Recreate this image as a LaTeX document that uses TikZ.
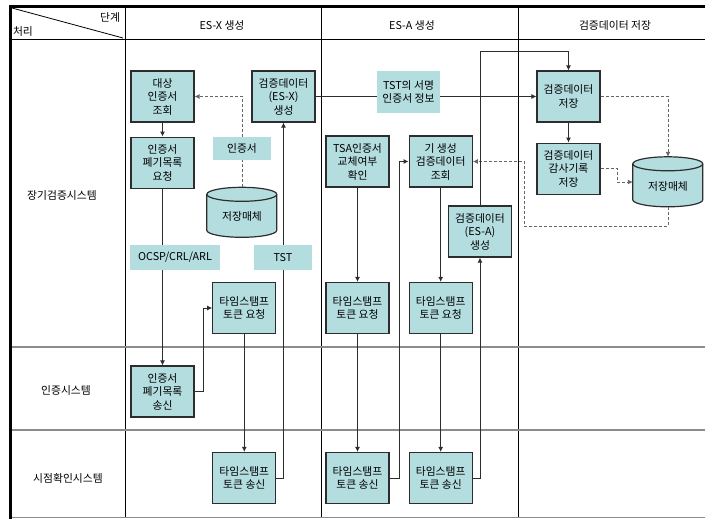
\documentclass[tikz,border=0pt]{standalone}
\usepackage{fontspec}
\setmainfont{Noto Sans CJK KR}
\usepackage{xcolor}
\usepackage{tikz}
\usetikzlibrary{positioning,arrows.meta}
\definecolor{boxfill}{RGB}{180,221,224}
\definecolor{lineclr}{RGB}{45,45,45}
\definecolor{gridgray}{RGB}{140,140,140}

\begin{document}
\begin{tikzpicture}[x=1pt, y=-1pt, font=\fontsize{10.8}{13.5}\selectfont,
    >={Latex[length=5pt,width=5pt]},
    box/.style={draw=lineclr, line width=1.2pt, fill=boxfill, rectangle, align=center,
      inner sep=0pt, minimum width=63pt, minimum height=51pt},
    lbl/.style={fill=boxfill, rectangle, align=center, inner sep=0pt},
    flow/.style={draw=lineclr, line width=0.9pt},
    dflow/.style={draw=gray!80!black, line width=0.9pt, dash pattern=on 3pt off 2pt}]
    \useasboundingbox (0,0) rectangle (705,519);

    % Table
    \draw[line width=2.5pt] (9,6.5) -- (705,6.5);
    \draw[line width=3pt] (10.5,5.5) -- (10.5,519);
    \draw[line width=0.8pt] (10,39) -- (705,39);
    \foreach \x in {125,321,518} \draw[line width=0.8pt] (\x,7) -- (\x,518);
    \foreach \y in {347,430,517.5} \draw[gridgray, line width=1.5pt] (12,\y) -- (705,\y);
    \draw[line width=0.8pt] (12,8) -- (123,38);

    \node (stagehd) at (110,17) {단계};
    \node (prochd) at (23,31) {처리};
    \node (hdx) at (222,25) {ES-X 생성};
    \node (hda) at (412,25) {ES-A 생성};
    \node (hds) at (615,25) {검증데이터 저장};
    \node (rowlong) at (62,195) {장기검증시스템};
    \node (rowca) at (66,390) {인증시스템};
    \node (rowtsa) at (68,478) {시점확인시스템};

    % ES-X
    \node [box] (tgt) at (162.5,96.5) {대상\\인증서\\조회};
    \node [box, below=14pt of tgt] (crlreq) {인증서\\폐기목록\\요청};
    \node [box] (esx) at (283.5,96.5) {검증데이터\\(ES-X)\\생성};
    \node [box] (crlsend) at (162.5,391.5) {인증서\\폐기목록\\송신};

    % ES-A
    \node [box] (tsacheck) at (357.5,161.5) {TSA인증서\\교체여부\\확인};
    \node [box, right=19pt of tsacheck] (prevlook) {기 생성\\검증데이터\\조회};
    \node [box] (esa) at (480,231.5) {검증데이터\\(ES-A)\\생성};
    \node [box] (tsreq2) at (357.5,308) {타임스탬프\\토큰 요청};
    \node [box, right=19pt of tsreq2] (tsreq3) {타임스탬프\\토큰 요청};
    \node [box, left=49pt of tsreq2] (tsreq1) {타임스탬프\\토큰 요청};
    \node [box] (tssend2) at (357.5,478) {타임스탬프\\토큰 송신};
    \node [box, right=19pt of tssend2] (tssend3) {타임스탬프\\토큰 송신};
    \node [box, left=49pt of tssend2] (tssend1) {타임스탬프\\토큰 송신};

    % Saving
    \node [box] (save) at (568.5,96.5) {검증데이터\\저장};
    \node [box, below=20pt of save] (audit) {검증데이터\\감사기록\\저장};

    % Storage
    \node [minimum width=70pt, minimum height=50pt, inner sep=0pt] (store1) at (242,212.5) {};
    \node [minimum width=70pt, minimum height=50pt, inner sep=0pt] (store2) at (668,182) {};
    \foreach \s in {store1,store2} {
      \path[fill=boxfill, draw=lineclr, line width=1.2pt] (\s.north west) ++(0,7) -- ++(0,36)
        arc[start angle=180, end angle=360, x radius=35pt, y radius=7pt] -- ++(0,-36)
        arc[start angle=0, end angle=180, x radius=35pt, y radius=7pt] -- cycle;
      \draw[lineclr, line width=1.2pt] (\s.north west) ++(0,7)
        arc[start angle=180, end angle=360, x radius=35pt, y radius=7pt];
    }
    \node (store1txt) at ([yshift=-4pt]store1.center) {저장매체};
    \node (store2txt) at ([yshift=-4pt]store2.center) {저장매체};

    % Arrows
    \draw[flow, ->] (tgt) -- (crlreq);
    \draw[flow, ->] (crlreq.south) -- (crlreq.south |- crlsend.north);
    \draw[flow, ->] (crlsend.east) -- ++(9,0) |- (tsreq1.west);
    \draw[flow, ->] (tsreq1) -- (tssend1);
    \draw[flow, ->] (tssend1.east) -| (esx.south);
    \draw[dflow, ->] (store1.north) |- (tgt.east);
    \draw[flow, ->] (esx) -- (save);
    \draw[flow, ->] (save) -- (audit);
    \draw[dflow, ->] (save.east) -| (store2.north);
    \draw[dflow, ->] (audit.east) -- ++(17,0) |- (store2.west);
    \draw[dflow, ->] (store2.south) -- ++(0,19) -- ++(-144,0) |- (prevlook.east);
    \draw[flow, ->] (esa.north) -- ++(0,-154) -| (save.north);
    \draw[flow, ->] (tsacheck) -- (tsreq2);
    \draw[flow, ->] (tsreq2) -- (tssend2);
    \draw[flow, ->] (tssend2.east) -- ++(10,0) |- (prevlook.west);
    \draw[flow, ->] (prevlook) -- (tsreq3);
    \draw[flow, ->] (tsreq3) -- (tssend3);
    \draw[flow, ->] (tssend3.east) -| (esa.south);

    % Labels on the arrows
    \node [lbl, minimum width=58pt, minimum height=23pt] (certlbl) at (242,148.5) {인증서};
    \node [lbl, minimum width=90pt, minimum height=25pt] (ocsplbl) at (175,257.5) {OCSP/CRL/ARL};
    \node [lbl, minimum width=58pt, minimum height=25pt] (tstlbl) at (283,257.5) {TST};
    \node [lbl, minimum width=63pt, minimum height=42pt] (tstinfo) at (408.5,92) {TST의 서명\\인증서 정보};
  \end{tikzpicture}
\end{document}
